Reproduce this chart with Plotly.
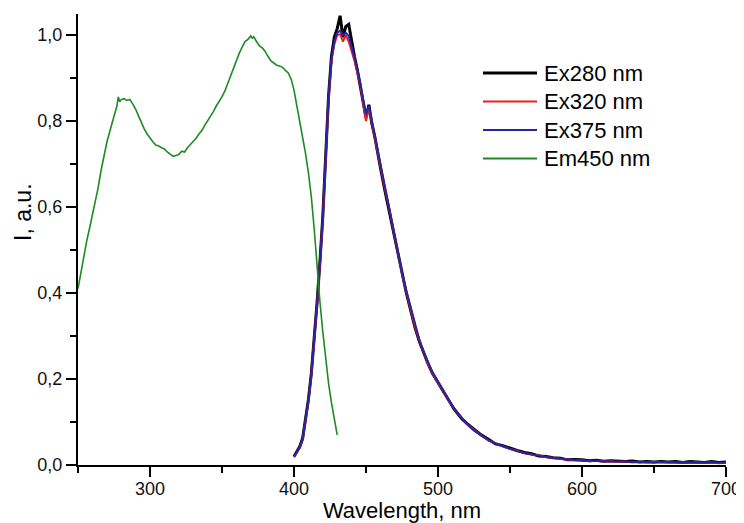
import plotly.graph_objects as go

# Excitation spectrum (Em450 nm)
green_x = [250, 252, 254, 256, 258, 260, 262, 264, 266, 268, 270, 272, 274, 276, 277, 278, 279, 280,
           282, 284, 286, 288, 290, 292, 294, 296, 298, 300, 302, 304, 306, 308, 310, 312, 314, 316,
           318, 320, 322, 324, 326, 328, 330, 332, 334, 336, 338, 340, 342, 344, 346, 348, 350, 352,
           354, 356, 358, 360, 362, 364, 366, 368, 370, 371, 372, 374, 376, 378, 380, 382, 384, 386,
           388, 390, 392, 394, 396, 398, 400, 402, 404, 406, 408, 410, 412, 414, 416, 418, 420, 422,
           424, 426, 428, 430]
green_y = [0.41, 0.45, 0.49, 0.52, 0.55, 0.58, 0.615, 0.645, 0.685, 0.72, 0.75, 0.775, 0.80, 0.82, 0.835,
           0.856, 0.845, 0.85, 0.852, 0.848, 0.85, 0.84, 0.828, 0.812, 0.795, 0.782, 0.77, 0.76, 0.752,
           0.744, 0.742, 0.738, 0.735, 0.728, 0.722, 0.718, 0.72, 0.722, 0.73, 0.728, 0.738, 0.745, 0.752,
           0.76, 0.77, 0.778, 0.79, 0.80, 0.812, 0.822, 0.835, 0.845, 0.857, 0.87, 0.888, 0.905, 0.925,
           0.94, 0.958, 0.972, 0.985, 0.99, 0.998, 0.993, 0.996, 0.985, 0.975, 0.97, 0.962, 0.95, 0.94,
           0.935, 0.93, 0.928, 0.925, 0.918, 0.912, 0.898, 0.872, 0.835, 0.80, 0.765, 0.725, 0.68, 0.625,
           0.55, 0.46, 0.38, 0.31, 0.245, 0.19, 0.145, 0.105, 0.07]

# Emission spectra wavelengths
em_x = [400, 402, 404, 406, 408, 410, 412, 414, 416, 418, 420, 422, 424, 426, 428, 430, 432, 434, 436,
        438, 440, 442, 444, 446, 448, 450, 452, 454, 456, 458, 460, 463, 466, 469, 472, 475, 478, 481,
        484, 487, 490, 493, 496, 499, 502, 505, 508, 511, 514, 517, 520, 525, 530, 535, 540, 545, 550,
        555, 560, 565, 570, 575, 580, 585, 590, 595, 600, 605, 610, 615, 620, 625, 630, 635, 640, 645,
        650, 655, 660, 665, 670, 675, 680, 685, 690, 695, 700]

ex280_y = [0.020, 0.031, 0.043, 0.062, 0.102, 0.152, 0.212, 0.287, 0.377, 0.472, 0.578, 0.718, 0.858,
           0.950, 0.995, 1.015, 1.045, 0.995, 1.020, 1.025, 0.985, 0.950, 0.918, 0.882, 0.845, 0.808,
           0.838, 0.795, 0.765, 0.725, 0.692, 0.640, 0.592, 0.540, 0.490, 0.442, 0.400, 0.360, 0.320,
           0.288, 0.260, 0.236, 0.214, 0.197, 0.180, 0.163, 0.146, 0.131, 0.118, 0.106, 0.097, 0.083,
           0.070, 0.060, 0.049, 0.045, 0.039, 0.034, 0.029, 0.026, 0.021, 0.020, 0.017, 0.016, 0.012,
           0.013, 0.012, 0.010, 0.011, 0.009, 0.010, 0.009, 0.008, 0.009, 0.007, 0.008, 0.007, 0.008,
           0.007, 0.008, 0.006, 0.008, 0.007, 0.006, 0.008, 0.006, 0.007]

ex320_y = [0.018, 0.028, 0.040, 0.058, 0.098, 0.148, 0.208, 0.282, 0.372, 0.468, 0.572, 0.712, 0.850,
           0.940, 0.978, 1.000, 1.002, 0.985, 1.000, 0.985, 0.965, 0.940, 0.912, 0.885, 0.842, 0.800,
           0.830, 0.795, 0.762, 0.730, 0.695, 0.645, 0.598, 0.545, 0.492, 0.445, 0.402, 0.360, 0.322,
           0.290, 0.262, 0.236, 0.214, 0.198, 0.180, 0.164, 0.146, 0.132, 0.119, 0.108, 0.096, 0.082,
           0.069, 0.057, 0.051, 0.043, 0.037, 0.033, 0.027, 0.024, 0.023, 0.018, 0.017, 0.014, 0.013,
           0.011, 0.011, 0.009, 0.010, 0.008, 0.009, 0.007, 0.008, 0.006, 0.007, 0.006, 0.007, 0.006,
           0.006, 0.005, 0.006, 0.005, 0.006, 0.005, 0.006, 0.004, 0.005]

ex375_y = [0.020, 0.030, 0.042, 0.060, 0.100, 0.150, 0.210, 0.285, 0.375, 0.470, 0.575, 0.715, 0.855,
           0.945, 0.985, 1.005, 1.010, 1.000, 1.005, 0.998, 0.975, 0.948, 0.920, 0.890, 0.850, 0.815,
           0.835, 0.800, 0.770, 0.735, 0.700, 0.650, 0.600, 0.548, 0.495, 0.447, 0.405, 0.365, 0.325,
           0.292, 0.263, 0.238, 0.217, 0.200, 0.182, 0.165, 0.148, 0.133, 0.120, 0.107, 0.095, 0.080,
           0.068, 0.058, 0.050, 0.044, 0.038, 0.032, 0.028, 0.025, 0.022, 0.019, 0.016, 0.015, 0.013,
           0.012, 0.010, 0.010, 0.009, 0.009, 0.008, 0.008, 0.007, 0.007, 0.007, 0.006, 0.006, 0.007,
           0.006, 0.006, 0.005, 0.006, 0.005, 0.006, 0.005, 0.005, 0.005]

x_ticks = [300, 400, 500, 600, 700]
y_ticks = [0.0, 0.2, 0.4, 0.6, 0.8, 1.0]

FONT = "Liberation Sans, Arial, sans-serif"
OFF = 8  # default page body margin
W, H = 744 - OFF, 523 - OFF
ML, MR, MT, MB = 78 - OFF, 18, 14 - OFF, 58
PW, PH = W - ML - MR, H - MT - MB


def px_x(p):
    # page pixel -> paper x
    return (p - OFF - ML) / PW


def px_y(p):
    # page pixel -> paper y
    return (OFF + MT + PH - p) / PH


series = [
    ("Ex280 nm", em_x, ex280_y, "#000000", 3),
    ("Ex320 nm", em_x, ex320_y, "#ee1c24", 2),
    ("Ex375 nm", em_x, ex375_y, "#2424a8", 2),
    ("Em450 nm", green_x, green_y, "#1f8a24", 1.6),
]

fig = go.Figure()
shapes, annotations = [], []
for i, (name, xs, ys, col, lw) in enumerate(series):
    fig.add_trace(go.Scatter(x=xs, y=ys, mode="lines", name=name, showlegend=False,
                             line=dict(color=col, width=lw)))
    row_y = px_y(73 + i * 28.5)
    shapes.append(dict(type="line", xref="paper", yref="paper",
                       x0=px_x(483), x1=px_x(537), y0=row_y, y1=row_y,
                       line=dict(color=col, width=max(lw, 2))))
    annotations.append(dict(text=name, xref="paper", yref="paper", x=px_x(542), y=row_y,
                            xanchor="left", yanchor="middle", showarrow=False,
                            font=dict(size=22, family=FONT, color="#000")))

annotations.append(dict(text="I, a.u.", textangle=-90, xref="paper", yref="paper",
                        x=px_x(23), y=px_y(212), xanchor="center", yanchor="middle",
                        showarrow=False, font=dict(size=23, family=FONT)))

fig.update_layout(
    width=W, height=H,
    margin=dict(l=ML, r=MR, t=MT, b=MB, autoexpand=False),
    paper_bgcolor="white", plot_bgcolor="white",
    separators=", ",
    font=dict(family=FONT, color="#000000"),
    showlegend=False,
    shapes=shapes,
    annotations=annotations,
    xaxis=dict(range=[250, 700], tickmode="array", tickvals=x_ticks, automargin=False,
               showline=True, linecolor="black", linewidth=2,
               ticks="outside", ticklen=10, tickwidth=2, tickcolor="black",
               ticklabelstandoff=-4,
               minor=dict(ticks="outside", ticklen=6, tickwidth=2, tickcolor="black",
                          tickmode="linear", tick0=250, dtick=50),
               showgrid=False, zeroline=False,
               tickfont=dict(size=18, family=FONT, color="#111"),
               title=dict(text="Wavelength, nm", font=dict(size=22, family=FONT), standoff=2)),
    yaxis=dict(range=[0, 1.049], tickmode="array", tickvals=y_ticks, tickformat=".1f",
               automargin=False,
               showline=True, linecolor="black", linewidth=2,
               ticks="outside", ticklen=10, tickwidth=2, tickcolor="black",
               minor=dict(ticks="outside", ticklen=6, tickwidth=2, tickcolor="black",
                          tickmode="linear", tick0=0, dtick=0.1),
               showgrid=False, zeroline=False,
               tickfont=dict(size=18, family=FONT, color="#111")),
)

fig.write_html("out.html")
